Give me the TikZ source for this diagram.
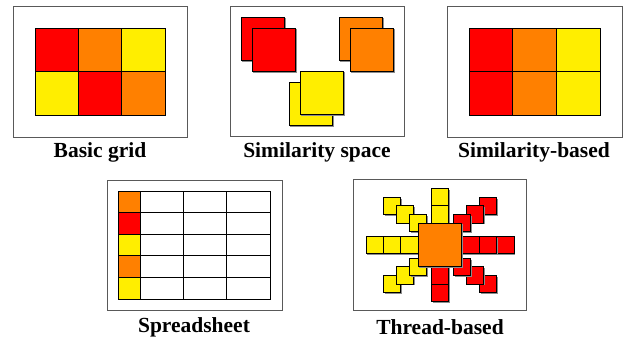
\documentclass[tikz,border=0pt]{standalone}
\usepackage{fontspec}
\setmainfont{Liberation Serif}
\definecolor{cred}{RGB}{255,0,0}
\definecolor{corange}{RGB}{255,128,0}
\definecolor{cyellow}{RGB}{255,238,0}
\tikzset{
  panel/.style={draw=black!65,line width=1pt},
  cell/.style={draw=black,line width=0.9pt},
  dropshade/.style={fill=black!45},
  caption/.style={anchor=base,inner sep=0pt,font=\fontsize{21.5}{24}\selectfont\bfseries}
}
% square with a small drop shadow: colour, left, top, size
\newcommand\shadedsq[4]{%
  \fill[dropshade] (#2+1.2,#3+1.2) rectangle ++(#4,#4);
  \filldraw[cell,fill=#1] (#2,#3) rectangle ++(#4,#4);}
% small thread square given by its centre
\newcommand\threadsq[3]{\shadedsq{#1}{#2-8.7}{#3-8.7}{17.4}}
\begin{document}
\begin{tikzpicture}[x=1pt,y=-1pt]
\useasboundingbox (0,0) rectangle (624,341);
\fill[white] (0,0) rectangle (624,341);

% ---- Basic grid ----
\draw[panel] (13,6) rectangle (187,137);
\foreach \c [count=\i from 0] in {cred,corange,cyellow}
  \filldraw[cell,fill=\c] (35+43.33*\i,28) rectangle ++(43.33,43.5);
\foreach \c [count=\i from 0] in {cyellow,cred,corange}
  \filldraw[cell,fill=\c] (35+43.33*\i,71.5) rectangle ++(43.33,43.5);
\node[caption] (cap1) at (100,157.3) {Basic grid};

% ---- Similarity space ----
\draw[panel] (230,6) rectangle (404,136);
\shadedsq{cred}{241}{17}{43.5}
\shadedsq{cred}{252}{28}{43.5}
\shadedsq{corange}{339}{17}{43.5}
\shadedsq{corange}{350}{28}{43.5}
\shadedsq{cyellow}{289}{82}{43.5}
\shadedsq{cyellow}{300}{71}{43.5}
\node[caption] (cap2) at (317,157.3) {Similarity space};

% ---- Similarity-based ----
\draw[panel] (447,6) rectangle (622,137);
\foreach \c [count=\i from 0] in {cred,corange,cyellow}{
  \filldraw[cell,fill=\c] (469+43.67*\i,28) rectangle ++(43.67,43.5);
  \filldraw[cell,fill=\c] (469+43.67*\i,71.5) rectangle ++(43.67,43.5);}
\node[caption] (cap3) at (534,157.3) {Similarity-based};

% ---- Spreadsheet ----
\draw[panel] (107,180) rectangle (282,310);
\foreach \c [count=\r from 0] in {corange,cred,cyellow,corange,cyellow}{
  \filldraw[cell,fill=\c] (118,191+21.6*\r) rectangle ++(22,21.6);
  \foreach \k in {0,1,2}
    \draw[cell] (140+43.33*\k,191+21.6*\r) rectangle ++(43.33,21.6);}
\node[caption] (cap4) at (194,332.3) {Spreadsheet};

% ---- Thread-based ----
\draw[panel] (353,179) rectangle (526,310);
% diagonal threads, outermost first
\foreach \dx/\dy in {48/39,35/30.5,22/22}{
  \threadsq{cyellow}{440-\dx}{245-\dy}
  \threadsq{cred}{440+\dx}{245-\dy}
  \threadsq{cyellow}{440-\dx}{245+\dy}
  \threadsq{cred}{440+\dx}{245+\dy}}
% horizontal and vertical threads
\foreach \d in {65.25,47.85,30.45}{
  \threadsq{cyellow}{440-\d}{245}
  \threadsq{cred}{440+\d}{245}}
\foreach \d in {47.85,30.45}{
  \threadsq{cyellow}{440}{245-\d}
  \threadsq{cred}{440}{245+\d}}
% central message
\shadedsq{corange}{418.25}{223.25}{43.5}
\node[caption] (cap5) at (440,334) {Thread-based};
\end{tikzpicture}
\end{document}
